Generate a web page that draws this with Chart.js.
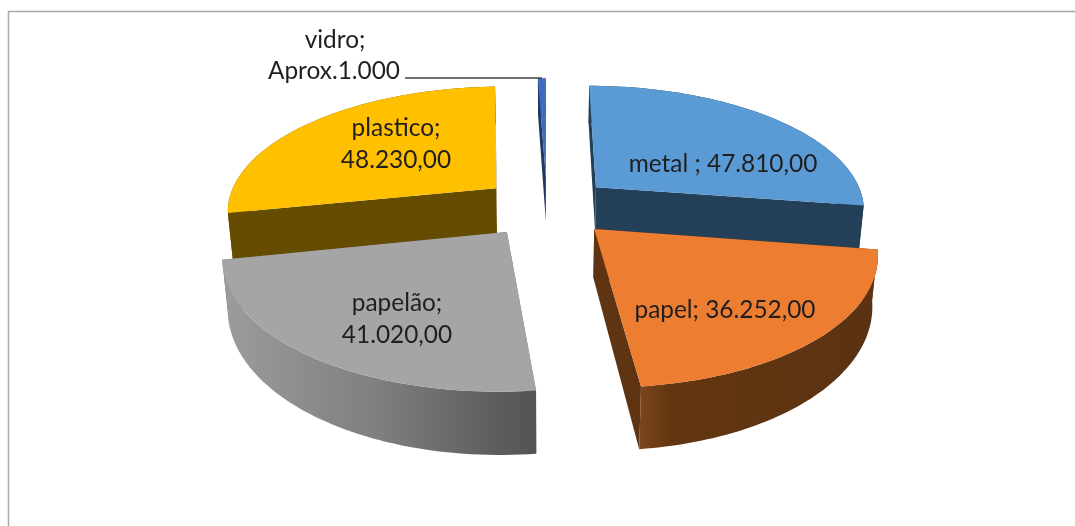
<!DOCTYPE html>
<html>
<head>
<meta charset="utf-8">
<title>Resíduos recicláveis</title>
<script src="https://cdn.jsdelivr.net/npm/chart.js@4/dist/chart.umd.min.js"></script>
<style>
  html, body { margin: 0; padding: 0; background: #fff; }
  canvas { display: block; }
</style>
</head>
<body>
<canvas id="pie" width="1075" height="526"></canvas>
<script>
// Material categories and their amounts
const categories = ['metal', 'papel', 'papelão', 'plastico', 'vidro'];
const amounts = [47810, 36252, 41020, 48230, 1000];

// Slice colours: top face and flat side walls
const topColors = ['#5b9bd5', '#ed7d31', '#a5a5a5', '#ffc000', '#3f6cc0'];
const wallColors = ['#243f58', '#5f3412', '#6e6e6e', '#654c00', '#1f3864'];

// Rim shading for the two slices facing the viewer: [stop, colour]
const rimShades = {
  1: [[0, '#7a451b'], [0.12, '#633610'], [1, '#5b3212']],
  2: [[0, '#9c9c9c'], [0.5, '#7f7f7f'], [1, '#535353']]
};

// Data labels: one entry per line, with its centre on the page
const labelLines = [
  [['metal ; 47.810,00', 723, 164]],
  [['papel; 36.252,00', 725, 310]],
  [['papelão;', 397, 303], ['41.020,00', 397, 335]],
  [['plastico;', 396, 128], ['48.230,00', 396, 160]],
  [['vidro;', 335, 40], ['Aprox.1.000', 334, 71]]
];

// Paint order: rear slices first
const paintOrder = [4, 0, 3, 1, 2];

// Camera for the tilted pie
const camera = {
  cx: 547, cy: 206.5,   // page position of the pie axis
  sx: 270, sy: 124,     // horizontal and foreshortened vertical radius
  perspective: 0.165,   // shrink towards the rear
  explode: 0.245,       // slice separation, in radii
  depth: 47,            // wall height
  depthFalloff: 1.6,    // walls look taller towards the viewer
  wallShrink: 0.016     // wall bottom sits slightly further from the eye
};

function project(X, Y, lower) {
  const base = 1 + camera.perspective * Y;
  const w = base + (lower ? camera.wallShrink : 0);
  return {
    x: camera.cx + camera.sx * X / w,
    y: camera.cy - camera.sy * Y / w + (lower ? camera.depth / Math.pow(base, camera.depthFalloff) : 0)
  };
}

function tracePolygon(ctx, pts) {
  ctx.beginPath();
  pts.forEach((p, i) => (i ? ctx.lineTo(p.x, p.y) : ctx.moveTo(p.x, p.y)));
  ctx.closePath();
}

function drawSlice(ctx, arc, i) {
  const mid = (arc.startAngle + arc.endAngle) / 2;
  const ox = Math.cos(mid) * camera.explode;
  const oy = -Math.sin(mid) * camera.explode;
  const steps = 60;
  const upper = [], lower = [];
  for (let s = 0; s <= steps; s++) {
    const a = arc.startAngle + (arc.endAngle - arc.startAngle) * s / steps;
    const X = Math.cos(a) + ox, Y = -Math.sin(a) + oy;
    upper.push(project(X, Y, false));
    lower.push(project(X, Y, true));
  }
  const apexTop = project(ox, oy, false);
  const apexLow = project(ox, oy, true);

  // Cut faces
  ctx.fillStyle = wallColors[i];
  tracePolygon(ctx, [apexTop, upper[0], lower[0], apexLow]);
  ctx.fill();
  tracePolygon(ctx, [apexTop, upper[steps], lower[steps], apexLow]);
  ctx.fill();

  // Outer rim
  let rimFill = wallColors[i];
  if (rimShades[i]) {
    const xs = upper.map(p => p.x);
    const g = ctx.createLinearGradient(Math.min(...xs), 0, Math.max(...xs), 0);
    rimShades[i].forEach(([t, c]) => g.addColorStop(t, c));
    rimFill = g;
  }
  ctx.fillStyle = rimFill;
  tracePolygon(ctx, upper.concat(lower.slice().reverse()));
  ctx.fill();

  // Top face
  ctx.fillStyle = topColors[i];
  tracePolygon(ctx, [apexTop].concat(upper));
  ctx.fill();
}

const tiltedPie = {
  id: 'tiltedPie',
  beforeDraw(chart) {
    // Chart frame: top and left edges
    const ctx = chart.ctx;
    ctx.save();
    ctx.strokeStyle = '#a9a9a9';
    ctx.lineWidth = 1.5;
    ctx.beginPath();
    ctx.moveTo(8.5, 526);
    ctx.lineTo(8.5, 11.5);
    ctx.lineTo(1075, 11.5);
    ctx.stroke();
    ctx.restore();
  },
  beforeDatasetDraw(chart, args) {
    const ctx = chart.ctx;
    const arcs = chart.getDatasetMeta(args.index).data;
    ctx.save();
    paintOrder.forEach(i => drawSlice(ctx, arcs[i], i));
    ctx.restore();
    return false;
  },
  afterDatasetsDraw(chart) {
    const ctx = chart.ctx;
    const arcs = chart.getDatasetMeta(0).data;
    ctx.save();

    // Leader line from the vidro label to its slice
    const glass = arcs[4];
    const m = (glass.startAngle + glass.endAngle) / 2;
    const rim = project(Math.cos(m) * (1 + camera.explode), -Math.sin(m) * (1 + camera.explode), false);
    ctx.strokeStyle = '#3f3f3f';
    ctx.lineWidth = 1.5;
    ctx.beginPath();
    ctx.moveTo(405, 78);
    ctx.lineTo(rim.x, 78);
    ctx.stroke();

    ctx.fillStyle = '#1f1f1f';
    ctx.font = '24.4px Lato';
    ctx.textAlign = 'center';
    ctx.textBaseline = 'middle';
    labelLines.forEach(lines => lines.forEach(([text, x, y]) => ctx.fillText(text, x, y)));
    ctx.restore();
  }
};

new Chart(document.getElementById('pie'), {
  type: 'pie',
  data: {
    labels: categories,
    datasets: [{ data: amounts, backgroundColor: topColors, borderWidth: 0 }]
  },
  options: {
    responsive: false,
    animation: false,
    rotation: 0,
    plugins: { legend: { display: false }, tooltip: { enabled: false } }
  },
  plugins: [tiltedPie]
});
</script>
</body>
</html>
